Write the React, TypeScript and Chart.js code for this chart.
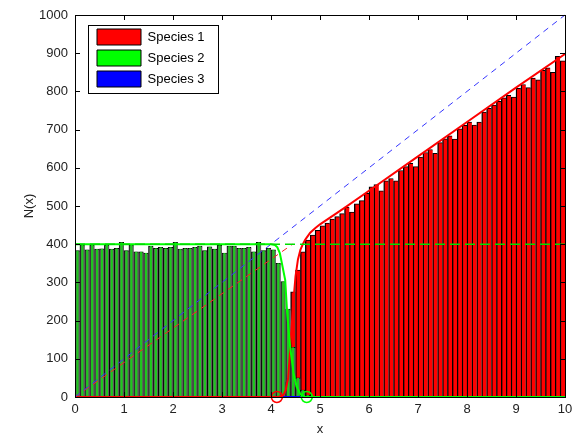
import React, { useEffect, useRef } from "react";
import { Chart, registerables } from "chart.js";

Chart.register(...registerables);

// ---------- data ----------
const BIN_WIDTH = 0.1;

// histogram counts per bin of width 0.1 on [0, 10]
const species1Counts = [
  0, 0, 0, 0, 0, 0, 0, 0, 0, 0,
  0, 0, 0, 0, 0, 0, 0, 0, 0, 0,
  0, 0, 0, 0, 0, 0, 0, 0, 0, 0,
  0, 0, 0, 0, 0, 0, 0, 0, 0, 0,
  0, 0, 8, 40, 275, 332, 380, 411, 424, 436,
  448, 455, 466, 472, 480, 497, 484, 506, 514, 533,
  550, 556, 540, 566, 572, 566, 593, 603, 612, 603,
  628, 640, 648, 638, 666, 676, 684, 675, 702, 711,
  720, 712, 720, 746, 756, 764, 774, 783, 790, 785,
  808, 818, 810, 835, 830, 855, 862, 850, 892, 880,
];

const species2Counts = [
  383, 398, 385, 398, 387, 388, 398, 387, 389, 405,
  383, 398, 380, 380, 377, 395, 389, 392, 389, 392,
  405, 387, 389, 389, 392, 395, 383, 393, 387, 397,
  377, 395, 395, 389, 389, 392, 380, 405, 383, 389,
  385, 350, 302, 230, 130, 50, 18, 5, 0, 0,
  0, 0, 0, 0, 0, 0, 0, 0, 0, 0,
  0, 0, 0, 0, 0, 0, 0, 0, 0, 0,
  0, 0, 0, 0, 0, 0, 0, 0, 0, 0,
  0, 0, 0, 0, 0, 0, 0, 0, 0, 0,
  0, 0, 0, 0, 0, 0, 0, 0, 0, 0,
];

// density curves
const species1CurveX = [0, 4.15, 4.25, 4.3, 4.35, 4.4, 4.45, 4.5, 4.55, 4.6, 4.65, 4.7, 4.8, 4.9, 5.0, 5.5, 6, 7, 8, 9, 10];
const species1CurveY = [0, 0, 5, 18, 50, 140, 240, 315, 360, 385, 400, 412, 430, 442, 452, 495, 540, 630, 720, 810, 898];

const species2CurveX = [0, 4.0, 4.08, 4.13, 4.18, 4.23, 4.29, 4.33, 4.39, 4.46, 4.52, 4.6, 4.7, 10];
const species2CurveY = [400, 400, 398, 392, 377, 345, 306, 220, 131, 63, 28, 8, 0, 0];

const species3CurveX = [0, 10];
const species3CurveY = [0, 0];

// dashed reference lines
const blueDashX = [0, 10];
const blueDashY = [0, 1000];
const redDashX = [0, 4.44];
const redDashY = [0, 400];
const greenDashX = [0, 10];
const greenDashY = [400, 400];

// front markers
const redMarkerX = [4.12];
const redMarkerY = [0];
const greenMarkerX = [4.73];
const greenMarkerY = [0];

const xTickValues = [0, 1, 2, 3, 4, 5, 6, 7, 8, 9, 10];
const yTickValues = [0, 100, 200, 300, 400, 500, 600, 700, 800, 900, 1000];

const legendLabels = ["Species 1", "Species 2", "Species 3"];
const legendColors = ["#ff0000", "#00ff00", "#0000ff"];

// ---------- helpers ----------
const binCenters = species1Counts.map((_, i) => +(i * BIN_WIDTH + BIN_WIDTH / 2).toFixed(2));
const pts = (xs: number[], ys: number[]) => xs.map((x, i) => ({ x, y: ys[i] }));

const FONT = '"Liberation Sans", Arial, Helvetica, sans-serif';

const legendBoxPlugin = {
  id: "legendBox",
  afterLayout(chart: any) {
    const lg = chart.legend;
    const a = chart.chartArea;
    if (lg && a) {
      lg.left = a.left + 17;
      lg.top = a.top + 9;
    }
  },
  beforeDraw(chart: any) {
    const { ctx, chartArea: a } = chart;
    ctx.save();
    ctx.fillStyle = "#ffffff";
    ctx.strokeStyle = "#000000";
    ctx.lineWidth = 1;
    const x = Math.round(a.left + 13) + 0.5;
    const y = Math.round(a.top + 10) + 0.5;
    ctx.fillRect(x, y, 130, 68);
    ctx.strokeRect(x, y, 130, 68);
    ctx.restore();
  },
};

const axesBoxPlugin = {
  id: "axesBox",
  afterDraw(chart: any) {
    const { ctx, chartArea: a, scales } = chart;
    ctx.save();
    ctx.strokeStyle = "#000000";
    ctx.lineWidth = 1;
    ctx.beginPath();
    const L = 5;
    for (const v of xTickValues) {
      const px = Math.round(scales.x.getPixelForValue(v)) + 0.5;
      ctx.moveTo(px, a.bottom);
      ctx.lineTo(px, a.bottom - L);
      ctx.moveTo(px, a.top);
      ctx.lineTo(px, a.top + L);
    }
    for (const v of yTickValues) {
      const py = Math.round(scales.y.getPixelForValue(v)) + 0.5;
      ctx.moveTo(a.left, py);
      ctx.lineTo(a.left + L, py);
      ctx.moveTo(a.right, py);
      ctx.lineTo(a.right - L, py);
    }
    ctx.stroke();
    ctx.strokeRect(
      Math.round(a.left) + 0.5,
      Math.round(a.top) + 0.5,
      Math.round(a.right - a.left),
      Math.round(a.bottom - a.top)
    );
    ctx.restore();
  },
};

export default function App() {
  const ref = useRef<HTMLCanvasElement>(null);

  useEffect(() => {
    if (!ref.current) return;
    Chart.defaults.font.family = FONT;
    Chart.defaults.font.size = 13;
    Chart.defaults.color = "#222222";

    const lineBase = { type: "line" as const, pointRadius: 0, tension: 0, clip: false as any, fill: false };

    const chart = new Chart(ref.current, {
      type: "bar",
      data: {
        datasets: [
          {
            type: "bar",
            label: "Species 1 bars",
            data: pts(binCenters, species1Counts),
            backgroundColor: "#ff0000",
            borderColor: "#000000",
            borderWidth: { left: 1.4, top: 1, right: 0, bottom: 0 },
            grouped: false,
            barPercentage: 1,
            categoryPercentage: 1,
            order: 20,
          } as any,
          {
            type: "bar",
            label: "Species 2 bars",
            data: pts(binCenters, species2Counts),
            backgroundColor: "#5e5e5e",
            borderColor: "#000000",
            borderWidth: { left: 1, top: 1, right: 0, bottom: 0 },
            grouped: false,
            barPercentage: 1,
            categoryPercentage: 1,
            order: 19,
          } as any,
          {
            type: "bar",
            label: "Species 2 face",
            data: pts(binCenters, species2Counts),
            backgroundColor: "#1ec81e",
            borderWidth: 0,
            grouped: false,
            barPercentage: 0.45,
            categoryPercentage: 1,
            order: 18,
          } as any,
          {
            ...lineBase,
            label: "Species 3 density",
            data: pts(species3CurveX, species3CurveY),
            borderColor: "#0000ff",
            borderWidth: 2,
            order: 10,
          } as any,
          {
            ...lineBase,
            label: "Species 1 density",
            data: pts(species1CurveX, species1CurveY),
            borderColor: "#ff0000",
            borderWidth: 2,
            order: 9,
          } as any,
          {
            ...lineBase,
            label: "Species 2 density",
            data: pts(species2CurveX, species2CurveY),
            borderColor: "#00ff00",
            borderWidth: 2,
            order: 8,
          } as any,
          {
            ...lineBase,
            label: "Blue dashed",
            data: pts(blueDashX, blueDashY),
            borderColor: "#3535ff",
            borderWidth: 1,
            borderDash: [6, 5],
            order: 6,
          } as any,
          {
            ...lineBase,
            label: "Red dashed",
            data: pts(redDashX, redDashY),
            borderColor: "#ff2020",
            borderWidth: 1,
            borderDash: [6, 5],
            order: 6,
          } as any,
          {
            ...lineBase,
            label: "Green dashed",
            data: pts(greenDashX, greenDashY),
            borderColor: "#00dd00",
            borderWidth: 1.5,
            borderDash: [10, 5],
            order: 5,
          } as any,
          {
            type: "scatter",
            label: "Species 1 front",
            data: pts(redMarkerX, redMarkerY),
            pointRadius: 5.5,
            pointBorderWidth: 1.5,
            pointBorderColor: "#ff0000",
            pointBackgroundColor: "rgba(0,0,0,0)",
            showLine: false,
            clip: false,
            order: 1,
          } as any,
          {
            type: "scatter",
            label: "Species 2 front",
            data: pts(greenMarkerX, greenMarkerY),
            pointRadius: 5.5,
            pointBorderWidth: 1.5,
            pointBorderColor: "#00ff00",
            pointBackgroundColor: "rgba(0,0,0,0)",
            showLine: false,
            clip: false,
            order: 1,
          } as any,
        ],
      },
      options: {
        responsive: false,
        animation: false,
        events: [],
        layout: { padding: { top: 7, right: 8, bottom: 0, left: 0 } },
        scales: {
          x: {
            type: "linear",
            min: 0,
            max: 10,
            offset: false,
            grid: { display: false, drawTicks: false },
            border: { display: false },
            ticks: {
              stepSize: 1,
              padding: 5,
              maxRotation: 0,
              autoSkip: false,
              color: "#222222",
              callback: (v: any) => String(v),
            },
            title: {
              display: true,
              text: "x",
              color: "#222222",
              font: { size: 13, lineHeight: 1 },
              padding: { top: 0, bottom: -3 },
            },
            afterFit: (s: any) => {
              s.height = 36;
              s.paddingLeft = 0;
              s.paddingRight = 0;
              s.paddingTop = 0;
              s.paddingBottom = 0;
            },
          },
          y: {
            type: "linear",
            min: 0,
            max: 1000,
            grid: { display: false, drawTicks: false },
            border: { display: false },
            ticks: {
              stepSize: 100,
              padding: 7,
              autoSkip: false,
              color: "#222222",
              callback: (v: any) => String(v),
            },
            title: {
              display: true,
              text: "N(x)",
              color: "#222222",
              font: { size: 13 },
              padding: { top: 14, bottom: 0 },
            },
            afterFit: (s: any) => {
              s.width = 67;
              s.paddingLeft = 0;
              s.paddingRight = 0;
              s.paddingTop = 0;
              s.paddingBottom = 0;
            },
          },
        },
        plugins: {
          tooltip: { enabled: false },
          title: { display: false },
          legend: {
            display: true,
            position: "chartArea",
            align: "start",
            labels: {
              boxWidth: 44,
              boxHeight: 16,
              padding: 5,
              color: "#000000",
              font: { size: 13, family: FONT },
              generateLabels: () =>
                legendLabels.map((text, i) => ({
                  text,
                  fillStyle: legendColors[i],
                  strokeStyle: "#000000",
                  lineWidth: 1,
                  hidden: false,
                  datasetIndex: i,
                  fontColor: "#000000",
                })),
            },
          },
        },
      } as any,
      plugins: [legendBoxPlugin, axesBoxPlugin],
    });

    return () => chart.destroy();
  }, []);

  return (
    <div style={{ width: 565, height: 425 }}>
      <canvas ref={ref} width={565} height={425} style={{ display: "block" }} />
    </div>
  );
}
